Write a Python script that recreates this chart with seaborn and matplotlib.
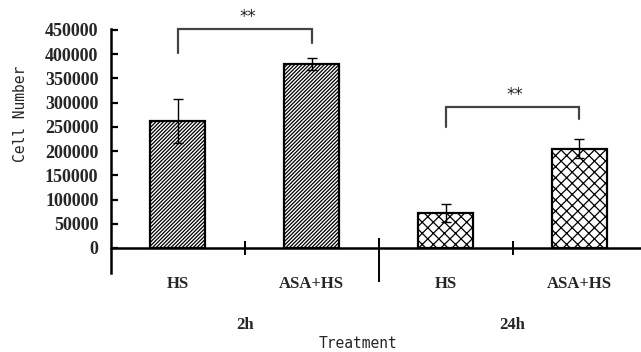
import matplotlib
matplotlib.use("Agg")
import matplotlib.pyplot as plt
import seaborn as sns
import pandas as pd
import numpy as np

# ---- data ----
bar_keys = ["2h_HS", "2h_ASA+HS", "24h_HS", "24h_ASA+HS"]
bar_labels = ["HS", "ASA+HS", "HS", "ASA+HS"]
means = [262000, 380000, 72000, 205000]
errors = [45000, 13000, 18000, 19000]
hatches = ["/////////", "/////////", "xxx", "xxx"]
groups = ["2h", "24h"]
sig_pairs = [(0, 1), (2, 3)]
sig_bar_y = [452000, 291000]
sig_leg_y = [(402000, 423000), (250000, 266000)]
sig_text = ["**", "**"]

sns.set_theme(style="white")
plt.rcParams["hatch.linewidth"] = 0.9

fig = plt.figure(figsize=(6.41, 3.52), dpi=100)
ax = fig.add_axes([111/641, (352-273)/352, 1 - 111/641, (273-29)/352])

df = pd.DataFrame({"key": bar_keys, "value": means})
sns.barplot(data=df, x="key", y="value", order=bar_keys, color="white",
            edgecolor="black", linewidth=1.6, width=0.41, errorbar=None, ax=ax)
for p, h in zip(ax.patches, hatches):
    p.set_hatch(h)
    p.set_facecolor("white")
    p.set_edgecolor("black")

xpos = np.arange(len(bar_keys))
ax.errorbar(xpos, means, yerr=errors, fmt="none", ecolor="black",
            elinewidth=1.0, capsize=3.5, capthick=1.0, zorder=5)

ax.set_xlim(-0.5, 3.46)
ax.set_ylim(-51600, 452000)
ax.set_yticks(np.arange(0, 450001, 50000))
ax.set_yticklabels([str(v) for v in range(0, 450001, 50000)],
                   fontfamily="Liberation Serif", fontweight="bold", fontsize=13)
ax.tick_params(axis="y", direction="in", length=5, width=1.6, left=True, pad=9, color="black")

ax.set_xticks(xpos)
ax.set_xticklabels(bar_labels, fontfamily="Liberation Serif", fontweight="bold", fontsize=12)
ax.tick_params(axis="x", length=0, pad=2)

for s in ["top", "right", "bottom"]:
    ax.spines[s].set_visible(False)
ax.spines["left"].set_linewidth(1.8)
ax.spines["left"].set_color("black")

# x axis line at zero and separators
ax.axhline(0, color="black", linewidth=1.8, clip_on=False, zorder=4)
ax.vlines([0.5, 2.5], -14000, 14000, color="black", linewidth=1.4, zorder=4)
ax.vlines([1.5], -70000, 20000, color="black", linewidth=1.4, zorder=4, clip_on=False)

# group labels
xt = ax.get_xaxis_transform()
for g, gx in zip(groups, [0.5, 2.5]):
    ax.text(gx, -0.213, g, transform=xt, ha="center", va="center",
            fontfamily="Liberation Serif", fontweight="bold", fontsize=12)

ax.set_xlabel("")
ax.set_ylabel("Cell Number", fontfamily="DejaVu Sans Mono", fontsize=10.5)
ax.yaxis.set_label_coords(-0.157, 0.652)
fig.text(358/641, (352-343)/352, "Treatment", ha="center", va="center",
         fontfamily="DejaVu Sans Mono", fontsize=10.5)

# significance brackets
for (a, b), yb, (la, lb), t in zip(sig_pairs, sig_bar_y, sig_leg_y, sig_text):
    ax.plot([a, a, b, b], [la, yb, yb, lb], color="#444444", linewidth=1.6,
            clip_on=False, solid_joinstyle="miter")
    ax.text((a + b) / 2 + 0.02, yb + 6000, t, ha="center", va="bottom",
            fontsize=12, color="#222222", clip_on=False)

fig.savefig("out.png", dpi=100)
